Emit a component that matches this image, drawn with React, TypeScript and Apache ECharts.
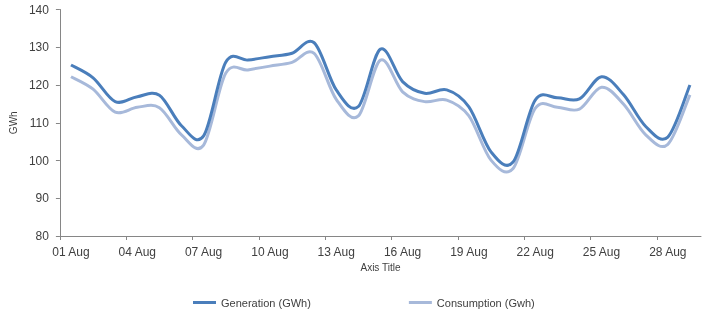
import React, { useEffect, useRef } from "react";
import * as echarts from "echarts";

const days = [1, 2, 3, 4, 5, 6, 7, 8, 9, 10, 11, 12, 13, 14, 15, 16, 17, 18, 19, 20, 21, 22, 23, 24, 25, 26, 27, 28, 29];
const generation = [125.3, 121.9, 115.6, 116.9, 117.3, 109.2, 106.5, 126.0, 126.6, 127.5, 128.4, 131.2, 118.7, 114.3, 129.5, 120.9, 117.8, 118.7, 114.2, 102.3, 99.6, 116.0, 116.6, 116.3, 122.2, 117.4, 109.0, 106.2, 120.0];
const consumption = [122.2, 118.9, 112.8, 114.1, 114.0, 106.8, 104.1, 123.1, 124.0, 125.0, 126.0, 128.4, 116.2, 111.8, 126.6, 118.2, 115.6, 116.0, 111.8, 100.1, 97.9, 113.8, 114.1, 113.6, 119.4, 114.9, 106.8, 104.3, 117.4];
const tickDays = [1, 4, 7, 10, 13, 16, 19, 22, 25, 28];
const monthName = "Aug";
const seriesNames = ["Generation (GWh)", "Consumption (Gwh)"];
const yTitle = "GWh";
const xTitle = "Axis Title";

const FONT = "'Liberation Sans', Arial, sans-serif";
const TEXT = "#404040";
const AXIS = "#868686";
const GEN_COLOR = "#4a7ebb";
const CON_COLOR = "#a7b9da";

export default function App() {
  const ref = useRef<HTMLDivElement>(null);
  useEffect(() => {
    if (!ref.current) return;
    const chart = echarts.init(ref.current, null, { renderer: "svg" });
    const pad = (n: number) => (n < 10 ? "0" + n : "" + n);
    // each day occupies the band [day-1, day]; points and labels sit mid-band
    const toPts = (vals: number[]) => vals.map((v, i) => [days[i] - 0.5, v]);
    const tickVals = tickDays.map((d) => d - 1);
    const labelVals = tickDays.map((d) => d - 0.5);

    // Excel-like smoothed line (Catmull-Rom as cubic Beziers), positions via api.coord
    const smoothLine = (vals: number[], color: string) => (params: any, api: any) => {
      if (params.dataIndex !== 0) return null;
      const pts = toPts(vals).map((p) => api.coord(p));
      const n = pts.length;
      let d = `M${pts[0][0]},${pts[0][1]}`;
      for (let i = 0; i < n - 1; i++) {
        const p0 = pts[Math.max(0, i - 1)];
        const p1 = pts[i];
        const p2 = pts[i + 1];
        const p3 = pts[Math.min(n - 1, i + 2)];
        const c1x = p1[0] + (p2[0] - p0[0]) / 6;
        const c1y = p1[1] + (p2[1] - p0[1]) / 6;
        const c2x = p2[0] - (p3[0] - p1[0]) / 6;
        const c2y = p2[1] - (p3[1] - p1[1]) / 6;
        d += ` C${c1x},${c1y} ${c2x},${c2y} ${p2[0]},${p2[1]}`;
      }
      return {
        type: "path",
        shape: { pathData: d },
        style: { stroke: color, lineWidth: 3, fill: "none", lineJoin: "round", lineCap: "butt" },
      };
    };

    chart.setOption({
      animation: false,
      textStyle: { fontFamily: FONT },
      grid: { left: 57, right: 12, top: 9.5, bottom: 80 },
      xAxis: {
        type: "value",
        min: 0,
        max: days.length,
        interval: 3,
        name: xTitle,
        nameLocation: "middle",
        nameGap: 26,
        nameTextStyle: { fontSize: 10, color: TEXT, fontFamily: FONT },
        splitLine: { show: false },
        axisLine: { show: true, lineStyle: { color: AXIS, width: 1 } },
        axisTick: { show: true, length: 4, lineStyle: { color: AXIS }, customValues: tickVals },
        axisLabel: {
          fontSize: 12,
          color: TEXT,
          margin: 10,
          customValues: labelVals,
          formatter: (v: number) => pad(Math.round(v + 0.5)) + " " + monthName,
        },
      },
      yAxis: {
        type: "value",
        min: 80,
        max: 140,
        interval: 10,
        name: yTitle,
        nameLocation: "middle",
        nameGap: 37,
        nameRotate: 90,
        nameTextStyle: { fontSize: 10, color: TEXT },
        splitLine: { show: false },
        axisLine: { show: true, lineStyle: { color: AXIS, width: 1 } },
        axisTick: { show: true, length: 4, lineStyle: { color: AXIS } },
        axisLabel: { fontSize: 12, color: TEXT, margin: 11 },
      },
      legend: {
        show: true,
        left: 193,
        top: 297,
        padding: 0,
        itemGap: 98,
        itemWidth: 23,
        itemHeight: 3,
        icon: "rect",
        textStyle: { fontSize: 11, color: TEXT, fontFamily: FONT },
        data: seriesNames,
      },
      series: [
        {
          name: seriesNames[0],
          type: "custom",
          data: toPts(generation),
          encode: { x: 0, y: 1 },
          renderItem: smoothLine(generation, GEN_COLOR),
          itemStyle: { color: GEN_COLOR },
          z: 3,
        },
        {
          name: seriesNames[1],
          type: "custom",
          data: toPts(consumption),
          encode: { x: 0, y: 1 },
          renderItem: smoothLine(consumption, CON_COLOR),
          itemStyle: { color: CON_COLOR },
          z: 2,
        },
      ],
    });
    return () => chart.dispose();
  }, []);
  return (
    <div
      ref={ref}
      style={{ position: "fixed", left: 0, top: 0, width: 713, height: 316 }}
    />
  );
}
